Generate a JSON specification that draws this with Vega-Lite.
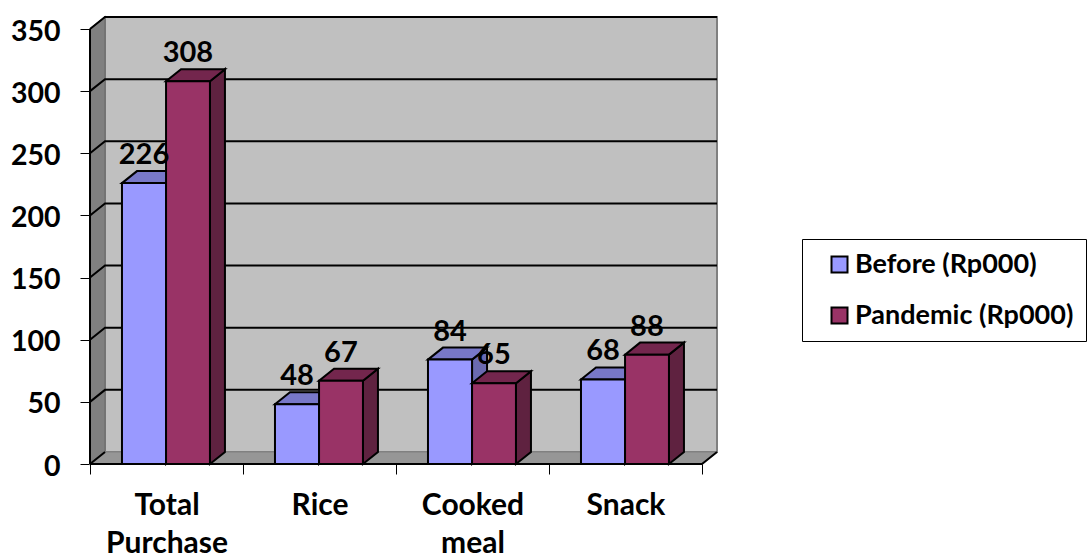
{"$schema":"https://vega.github.io/schema/vega-lite/v6.json","width":627,"height":447,"autosize":{"type":"none"},"padding":{"left":90,"top":17,"right":373,"bottom":90},"background":"white","config":{"view":{"stroke":null},"font":"Lato"},
"resolve":{"axis":{"x":"independent","y":"independent"}},
"datasets":{
"walls":[
{"wall":"back","x":0.098,"low":9.66,"high":359.66},{"wall":"back","x":4.098,"low":9.66,"high":359.66},
{"wall":"left","x":0,"low":0,"high":350},{"wall":"left","x":0.098,"low":9.66,"high":359.66},
{"wall":"floor","x":0,"low":0,"high":0},{"wall":"floor","x":0.098,"low":0,"high":9.66},{"wall":"floor","x":4,"low":0,"high":9.66},{"wall":"floor","x":4.098,"low":9.66,"high":9.66}],
"lines":[
{"line":"g50","x":0,"y":50},{"line":"g50","x":0.098,"y":59.66},{"line":"g50","x":4.098,"y":59.66},
{"line":"g100","x":0,"y":100},{"line":"g100","x":0.098,"y":109.66},{"line":"g100","x":4.098,"y":109.66},
{"line":"g150","x":0,"y":150},{"line":"g150","x":0.098,"y":159.66},{"line":"g150","x":4.098,"y":159.66},
{"line":"g200","x":0,"y":200},{"line":"g200","x":0.098,"y":209.66},{"line":"g200","x":4.098,"y":209.66},
{"line":"g250","x":0,"y":250},{"line":"g250","x":0.098,"y":259.66},{"line":"g250","x":4.098,"y":259.66},
{"line":"g300","x":0,"y":300},{"line":"g300","x":0.098,"y":309.66},{"line":"g300","x":4.098,"y":309.66},
{"line":"g350","x":0,"y":350},{"line":"g350","x":0.098,"y":359.66},{"line":"g350","x":4.098,"y":359.66},
{"line":"left","x":0,"y":0},{"line":"left","x":0,"y":350},
{"line":"base","x":0,"y":0},{"line":"base","x":4,"y":0},{"line":"base","x":4.098,"y":9.66},
{"line":"g0","x":0,"y":0},{"line":"g0","x":0.098,"y":9.66}],
"bars":[
{"category":"Total Purchase","series":"Before (Rp000)","value":226,"x0":0.209,"x1":0.497,"mid":0.353},
{"category":"Total Purchase","series":"Pandemic (Rp000)","value":308,"x0":0.497,"x1":0.784,"mid":0.64},
{"category":"Rice","series":"Before (Rp000)","value":48,"x0":1.209,"x1":1.497,"mid":1.353},
{"category":"Rice","series":"Pandemic (Rp000)","value":67,"x0":1.497,"x1":1.784,"mid":1.64},
{"category":"Cooked meal","series":"Before (Rp000)","value":84,"x0":2.209,"x1":2.497,"mid":2.353},
{"category":"Cooked meal","series":"Pandemic (Rp000)","value":65,"x0":2.497,"x1":2.784,"mid":2.64},
{"category":"Snack","series":"Before (Rp000)","value":68,"x0":3.209,"x1":3.497,"mid":3.353},
{"category":"Snack","series":"Pandemic (Rp000)","value":88,"x0":3.497,"x1":3.784,"mid":3.64}],
"faces":[
{"c":"T","part":"bs","x":0.497,"low":0,"high":226},{"c":"T","part":"bs","x":0.595,"low":9.66,"high":235.66},
{"c":"T","part":"bt","x":0.209,"low":226,"high":226},{"c":"T","part":"bt","x":0.307,"low":226,"high":235.66},{"c":"T","part":"bt","x":0.497,"low":226,"high":235.66},{"c":"T","part":"bt","x":0.595,"low":235.66,"high":235.66},
{"c":"T","part":"ps","x":0.784,"low":0,"high":308},{"c":"T","part":"ps","x":0.882,"low":9.66,"high":317.66},
{"c":"T","part":"pt","x":0.497,"low":308,"high":308},{"c":"T","part":"pt","x":0.595,"low":308,"high":317.66},{"c":"T","part":"pt","x":0.784,"low":308,"high":317.66},{"c":"T","part":"pt","x":0.882,"low":317.66,"high":317.66},
{"c":"R","part":"bs","x":1.497,"low":0,"high":48},{"c":"R","part":"bs","x":1.595,"low":9.66,"high":57.66},
{"c":"R","part":"bt","x":1.209,"low":48,"high":48},{"c":"R","part":"bt","x":1.307,"low":48,"high":57.66},{"c":"R","part":"bt","x":1.497,"low":48,"high":57.66},{"c":"R","part":"bt","x":1.595,"low":57.66,"high":57.66},
{"c":"R","part":"ps","x":1.784,"low":0,"high":67},{"c":"R","part":"ps","x":1.882,"low":9.66,"high":76.66},
{"c":"R","part":"pt","x":1.497,"low":67,"high":67},{"c":"R","part":"pt","x":1.595,"low":67,"high":76.66},{"c":"R","part":"pt","x":1.784,"low":67,"high":76.66},{"c":"R","part":"pt","x":1.882,"low":76.66,"high":76.66},
{"c":"C","part":"bs","x":2.497,"low":0,"high":84},{"c":"C","part":"bs","x":2.595,"low":9.66,"high":93.66},
{"c":"C","part":"bt","x":2.209,"low":84,"high":84},{"c":"C","part":"bt","x":2.307,"low":84,"high":93.66},{"c":"C","part":"bt","x":2.497,"low":84,"high":93.66},{"c":"C","part":"bt","x":2.595,"low":93.66,"high":93.66},
{"c":"C","part":"ps","x":2.784,"low":0,"high":65},{"c":"C","part":"ps","x":2.882,"low":9.66,"high":74.66},
{"c":"C","part":"pt","x":2.497,"low":65,"high":65},{"c":"C","part":"pt","x":2.595,"low":65,"high":74.66},{"c":"C","part":"pt","x":2.784,"low":65,"high":74.66},{"c":"C","part":"pt","x":2.882,"low":74.66,"high":74.66},
{"c":"S","part":"bs","x":3.497,"low":0,"high":68},{"c":"S","part":"bs","x":3.595,"low":9.66,"high":77.66},
{"c":"S","part":"bt","x":3.209,"low":68,"high":68},{"c":"S","part":"bt","x":3.307,"low":68,"high":77.66},{"c":"S","part":"bt","x":3.497,"low":68,"high":77.66},{"c":"S","part":"bt","x":3.595,"low":77.66,"high":77.66},
{"c":"S","part":"ps","x":3.784,"low":0,"high":88},{"c":"S","part":"ps","x":3.882,"low":9.66,"high":97.66},
{"c":"S","part":"pt","x":3.497,"low":88,"high":88},{"c":"S","part":"pt","x":3.595,"low":88,"high":97.66},{"c":"S","part":"pt","x":3.784,"low":88,"high":97.66},{"c":"S","part":"pt","x":3.882,"low":97.66,"high":97.66}]
},
"layer":[
{"data":{"name":"walls"},"transform":[{"filter":"datum.wall=='back'"}],"mark":{"type":"area","fill":"#c0c0c0","stroke":"#808080","strokeWidth":2,"orient":"vertical"},
"encoding":{
"x":{"field":"x","type":"quantitative","title":null,"scale":{"domain":[0,4.098],"nice":false,"zero":false},"axis":{"values":[0,0.5,1,1.5,2,2.5,3,3.5,4],"domain":false,"grid":false,"tickColor":"black","tickSize":10,"tickWidth":1,"tickOpacity":{"condition":{"test":"datum.value % 1 == 0","value":1},"value":0},"labelExpr":"datum.value==0.5?['Total','Purchase']:datum.value==1.5?['Rice']:datum.value==2.5?['Cooked','meal']:datum.value==3.5?['Snack']:''","labelFont":"Lato","labelFontWeight":"bold","labelFontSize":30,"labelColor":"black","labelLineHeight":38,"labelPadding":16,"labelOverlap":false,"labelBound":false,"labelFlush":false,"labelBaseline":"top"}},
"y":{"field":"low","type":"quantitative","title":null,"scale":{"domain":[0,359.66],"nice":false,"zero":false},"axis":{"values":[0,50,100,150,200,250,300,350],"domain":false,"grid":false,"tickColor":"black","tickSize":10,"tickWidth":1,"labelFont":"Lato","labelFontWeight":"bold","labelFontSize":28.5,"labelColor":"black","labelPadding":20,"labelOffset":2,"labelOverlap":false,"labelBound":false,"labelFlush":false}},
"y2":{"field":"high"}}},
{"data":{"name":"walls"},"transform":[{"filter":"datum.wall=='left'"}],"mark":{"type":"area","fill":"#808080","stroke":"#707070","strokeWidth":1.5,"orient":"vertical"},"encoding":{"x":{"field":"x","type":"quantitative","axis":null},"y":{"field":"low","type":"quantitative","axis":null},"y2":{"field":"high"}}},
{"data":{"name":"walls"},"transform":[{"filter":"datum.wall=='floor'"}],"mark":{"type":"area","fill":"#969696","stroke":"#808080","strokeWidth":1,"orient":"vertical"},"encoding":{"x":{"field":"x","type":"quantitative","axis":null},"y":{"field":"low","type":"quantitative","axis":null},"y2":{"field":"high"}}},
{"data":{"name":"lines"},"mark":{"type":"line","stroke":"black","strokeWidth":2,"clip":false},"encoding":{"x":{"field":"x","type":"quantitative","axis":null},"y":{"field":"y","type":"quantitative","axis":null},"detail":{"field":"line"}}},
{"data":{"name":"faces"},"transform":[{"filter":"datum.part=='bs'"}],"mark":{"type":"area","fill":"#6a6ab0","stroke":"black","strokeWidth":2,"orient":"vertical"},"encoding":{"x":{"field":"x","type":"quantitative","axis":null},"y":{"field":"low","type":"quantitative","axis":null},"y2":{"field":"high"},"detail":{"field":"c"}}},
{"data":{"name":"faces"},"transform":[{"filter":"datum.part=='bt'"}],"mark":{"type":"area","fill":"#7878c8","stroke":"black","strokeWidth":2,"orient":"vertical"},"encoding":{"x":{"field":"x","type":"quantitative","axis":null},"y":{"field":"low","type":"quantitative","axis":null},"y2":{"field":"high"},"detail":{"field":"c"}}},
{"data":{"name":"bars"},"transform":[{"filter":"indexof(datum.series,'Before')==0"}],"mark":{"type":"bar","stroke":"black","strokeWidth":2},"encoding":{"x":{"field":"x0","type":"quantitative","axis":null},"x2":{"field":"x1"},"y":{"field":"value","type":"quantitative","axis":null},"y2":{"datum":0},"color":{"field":"series","type":"nominal","scale":{"domain":["Before (Rp000)","Pandemic (Rp000)"],"range":["#9999ff","#993366"]},"legend":{"title":null,"orient":"none","legendX":712,"legendY":222,"symbolType":"square","symbolSize":256,"symbolStrokeColor":"black","symbolStrokeWidth":2,"symbolOpacity":1,"labelFont":"Lato","labelFontWeight":"bold","labelFontSize":27,"labelColor":"black","labelLimit":300,"labelOffset":2,"rowPadding":23,"padding":12,"symbolOffset":12,"fillColor":"white","strokeColor":"black"}}}},
{"data":{"name":"faces"},"transform":[{"filter":"datum.part=='ps'"}],"mark":{"type":"area","fill":"#5f2240","stroke":"black","strokeWidth":2,"orient":"vertical"},"encoding":{"x":{"field":"x","type":"quantitative","axis":null},"y":{"field":"low","type":"quantitative","axis":null},"y2":{"field":"high"},"detail":{"field":"c"}}},
{"data":{"name":"faces"},"transform":[{"filter":"datum.part=='pt'"}],"mark":{"type":"area","fill":"#73264d","stroke":"black","strokeWidth":2,"orient":"vertical"},"encoding":{"x":{"field":"x","type":"quantitative","axis":null},"y":{"field":"low","type":"quantitative","axis":null},"y2":{"field":"high"},"detail":{"field":"c"}}},
{"data":{"name":"bars"},"transform":[{"filter":"indexof(datum.series,'Pandemic')==0"}],"mark":{"type":"bar","stroke":"black","strokeWidth":2},"encoding":{"x":{"field":"x0","type":"quantitative","axis":null},"x2":{"field":"x1"},"y":{"field":"value","type":"quantitative","axis":null},"y2":{"datum":0},"color":{"field":"series","type":"nominal"}}},
{"data":{"name":"bars"},"mark":{"type":"text","font":"Lato","fontWeight":"bold","fontSize":29,"color":"black","baseline":"middle","yOffset":-28},"encoding":{"x":{"field":"mid","type":"quantitative","axis":null},"y":{"field":"value","type":"quantitative","axis":null},"text":{"field":"value","type":"quantitative"}}}
]}
